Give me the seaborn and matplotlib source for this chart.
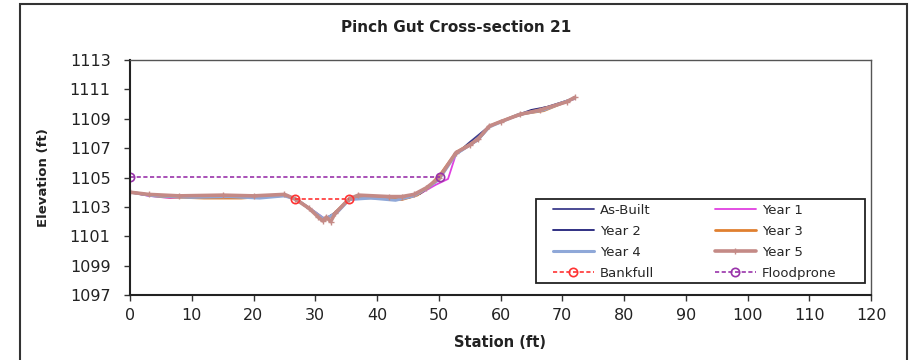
import matplotlib
matplotlib.use("Agg")
import matplotlib.pyplot as plt
import seaborn as sns
import numpy as np
from matplotlib.patches import Rectangle

sns.set_style("white")
plt.rcParams['font.family'] = ['DejaVu Sans']

# ---- data ----
ab_x = [0, 2.5, 7, 12, 18, 22, 25.5, 27, 29.5, 31.5, 33.5, 35.5, 38, 41, 44, 46, 48, 50, 52.8, 55, 58.2, 61, 64, 67, 69, 72]
ab_y = [1104.0, 1103.8, 1103.7, 1103.7, 1103.65, 1103.7, 1103.75, 1103.5, 1102.7, 1102.1, 1102.6, 1103.5, 1103.65, 1103.6, 1103.55, 1103.8, 1104.3, 1104.95, 1106.6, 1107.4, 1108.5, 1108.95, 1109.35, 1109.75, 1109.95, 1110.4]

y1_x = [0, 3, 6.5, 10, 15, 20, 25.5, 27, 29.5, 31.5, 33.5, 35.5, 38, 42, 45, 47, 49.5, 51.5, 52.8, 56.4, 58.2, 63, 67, 72]
y1_y = [1104.0, 1103.75, 1103.6, 1103.7, 1103.7, 1103.6, 1103.8, 1103.5, 1102.8, 1102.2, 1102.6, 1103.55, 1103.7, 1103.5, 1103.6, 1103.9, 1104.5, 1104.9, 1106.6, 1107.6, 1108.5, 1109.3, 1109.6, 1110.35]

y2_x = [0, 3, 8, 14, 19, 25, 27, 29.5, 31.5, 33, 35.5, 38, 42, 45, 47, 49.5, 52.8, 56.4, 58.2, 62, 65, 67.5, 72]
y2_y = [1104.0, 1103.8, 1103.7, 1103.65, 1103.6, 1103.75, 1103.5, 1102.7, 1102.15, 1102.55, 1103.5, 1103.6, 1103.55, 1103.6, 1103.9, 1104.7, 1106.6, 1107.55, 1108.45, 1109.15, 1109.6, 1109.8, 1110.4]

y3_x = [0, 5, 12, 18, 25, 27, 30, 31.5, 33, 35.5, 40, 44, 46.5, 48.5, 50.5, 52.8, 56.4, 58.2, 63, 67, 72]
y3_y = [1104.0, 1103.7, 1103.6, 1103.6, 1103.8, 1103.5, 1102.6, 1102.1, 1102.5, 1103.55, 1103.65, 1103.5, 1103.8, 1104.4, 1105.35, 1106.7, 1107.6, 1108.5, 1109.3, 1109.55, 1110.4]

y4_x = [0, 4, 10, 16, 21, 25, 27, 29.5, 31.5, 33.5, 35.5, 39, 43, 46, 48, 50, 52.8, 56.4, 58.2, 63, 67, 72]
y4_y = [1104.0, 1103.75, 1103.65, 1103.7, 1103.6, 1103.75, 1103.5, 1102.75, 1102.15, 1102.6, 1103.5, 1103.6, 1103.45, 1103.75, 1104.25, 1104.85, 1106.6, 1107.6, 1108.45, 1109.3, 1109.6, 1110.4]

y5_x = [0, 3, 8, 15, 20, 25, 26.7, 29, 30.5, 31.2, 31.8, 32.5, 33.2, 35.5, 37, 42, 44, 46, 48, 50, 52.8, 55, 56.4, 58.2, 60, 63.2, 66.4, 70.7, 72]
y5_y = [1104.0, 1103.85, 1103.75, 1103.8, 1103.75, 1103.85, 1103.55, 1102.9, 1102.3, 1102.05, 1102.3, 1102.0, 1102.55, 1103.55, 1103.8, 1103.7, 1103.7, 1103.85, 1104.3, 1104.95, 1106.7, 1107.2, 1107.65, 1108.5, 1108.8, 1109.3, 1109.6, 1110.15, 1110.45]

bank_x = [26.7, 35.4]
bank_y = [1103.55, 1103.55]
flood_x = [0, 50.2]
flood_y = [1105.05, 1105.05]

x_ticks = list(range(0, 121, 10))
y_ticks = list(range(1097, 1114, 2))

# ---- figure ----
fig = plt.figure(figsize=(9.18, 3.6), dpi=100)
ax = fig.add_axes([130/918, 1-295/360, 741/918, 235/360])

series = [
    ("As-Built", ab_x, ab_y, "#3d3d8c", 1.3, None),
    ("Year 1", y1_x, y1_y, "#e040e0", 1.3, None),
    ("Year 2", y2_x, y2_y, "#20207a", 1.3, None),
    ("Year 3", y3_x, y3_y, "#e08030", 2.0, None),
    ("Year 4", y4_x, y4_y, "#8fa8d8", 2.2, None),
    ("Year 5", y5_x, y5_y, "#c48a86", 2.6, "+"),
]
for name, xs, ys, col, lw, mk in series:
    sns.lineplot(x=xs, y=ys, ax=ax, color=col, lw=lw, sort=False, estimator=None,
                 marker=mk, markersize=4, markeredgewidth=1, markeredgecolor=col,
                 label=name)

sns.lineplot(x=bank_x, y=bank_y, ax=ax, color="#ff3333", lw=1.2, ls=(0, (2.5, 1.5)),
             marker="o", markersize=6, markerfacecolor="none", markeredgecolor="#ff3333",
             markeredgewidth=1.2, sort=False, estimator=None, label="Bankfull")
sns.lineplot(x=flood_x, y=flood_y, ax=ax, color="#9933aa", lw=1.2, ls=(0, (2.5, 1.5)),
             marker="o", markersize=6, markerfacecolor="none", markeredgecolor="#9933aa",
             markeredgewidth=1.2, sort=False, estimator=None, label="Floodprone")

ax.set_xlim(0, 120)
ax.set_ylim(1097, 1113)
ax.set_xticks(x_ticks)
ax.set_yticks(y_ticks)
ax.tick_params(axis='both', which='both', direction='out', length=4, width=1,
               colors='#333333', labelsize=11.5, labelcolor='#222222',
               bottom=True, left=True, top=False, right=False)
ax.tick_params(axis='y', pad=10)
ax.tick_params(axis='x', pad=5)
for s in ax.spines.values():
    s.set_color('#555555')
    s.set_linewidth(1.0)
ax.spines['left'].set_color('#222222')
ax.spines['bottom'].set_color('#222222')
ax.spines['left'].set_linewidth(1.5)
ax.spines['bottom'].set_linewidth(1.5)

ax.set_xlabel("Station (ft)", fontsize=10.5, fontweight='bold', color='#222222', labelpad=9)
ax.set_ylabel("Elevation (ft)", fontsize=9.5, fontweight='bold', color='#222222', labelpad=14)
fig.text(456/918, 1-27/360, "Pinch Gut Cross-section 21", ha='center', va='center',
         fontsize=11, fontweight='bold', color='#222222')

handles, labels = ax.get_legend_handles_labels()
if ax.get_legend() is not None:
    ax.get_legend().remove()
order = [0, 2, 4, 6, 1, 3, 5, 7]
handles = [handles[i] for i in order]
labels = [labels[i] for i in order]
leg = fig.legend(handles, labels, loc='upper left',
                 bbox_to_anchor=(553/918, 1-203.5/360), bbox_transform=fig.transFigure,
                 ncol=2, fontsize=9.5, frameon=False,
                 handlelength=3.1, handletextpad=0.45,
                 columnspacing=4.6, borderaxespad=0, labelspacing=0.62, borderpad=0)
fig.patches.append(Rectangle((536/918, 1-283/360), 329/918, 84/360,
                             transform=fig.transFigure, fill=True, facecolor='white',
                             edgecolor='#222222', lw=1.3, zorder=3))
leg.set_zorder(4)

fig.patches.append(Rectangle((20/918, -0.1), 887/918, 1.1 - 4/360,
                             transform=fig.transFigure, fill=False,
                             edgecolor='#333333', lw=1.5))

fig.savefig("out.png", dpi=100)
